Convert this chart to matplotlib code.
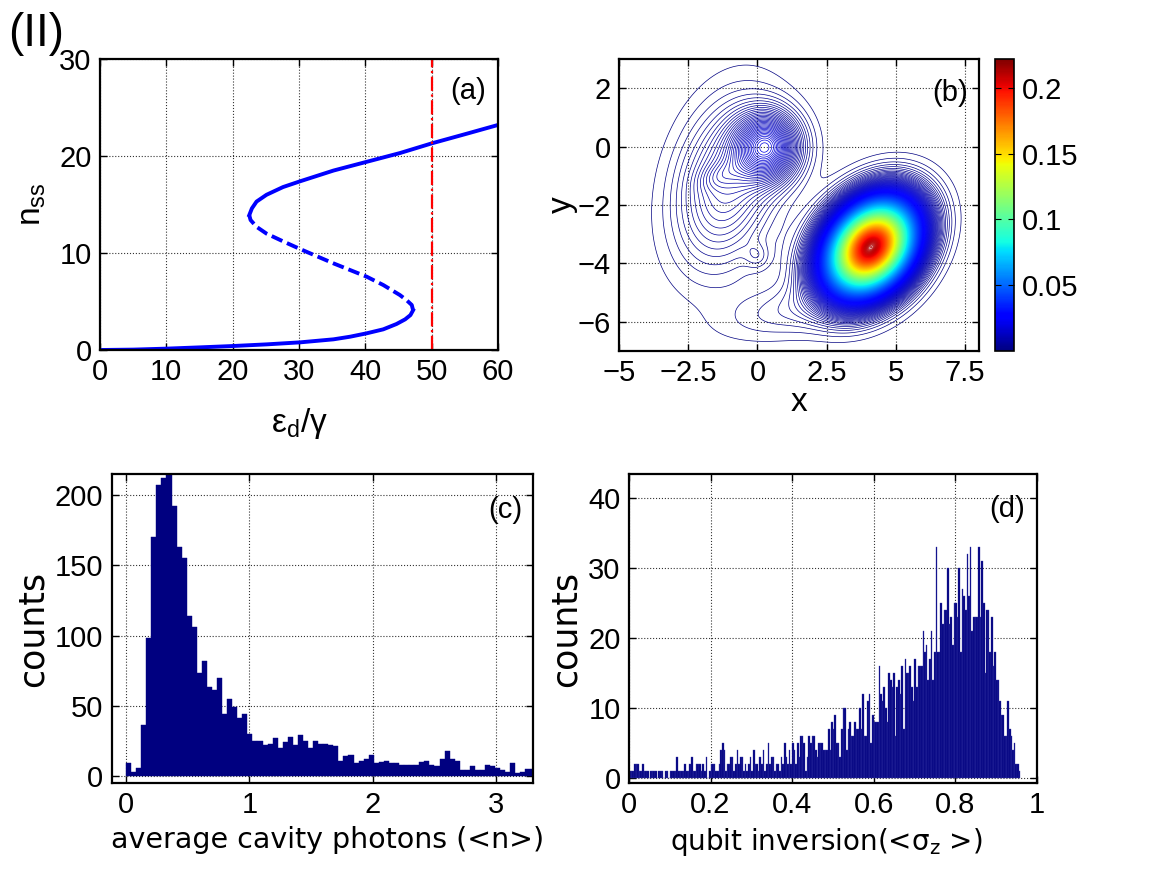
import numpy as np
import matplotlib
matplotlib.use("Agg")
import matplotlib.pyplot as plt

plt.rcParams["font.family"] = ["Liberation Sans", "DejaVu Sans"]
plt.rcParams["mathtext.default"] = "regular"

# (a) steady-state photon number against drive
drive_lower = [0, 5, 10, 15, 20, 25.1, 30.2, 35.2, 37.7, 40.2, 42.7, 44.7, 46.0, 46.8, 47.2]
n_lower = [0, 0.04, 0.14, 0.27, 0.41, 0.58, 0.79, 1.1, 1.37, 1.72, 2.13, 2.68, 3.16, 3.6, 4.1]
drive_middle = [47.2, 47.0, 46.2, 45.2, 42.7, 40.2, 35.2, 30.2, 27.6, 25.1, 23.6, 22.7, 22.5]
n_middle = [4.1, 4.64, 5.15, 5.67, 6.7, 7.56, 8.93, 10.4, 11.2, 12.0, 12.7, 13.4, 13.9]
drive_upper = [22.5, 22.9, 23.6, 25.1, 27.6, 30.2, 35.2, 40.2, 45.2, 50, 55.3, 60]
n_upper = [13.9, 14.6, 15.3, 16.0, 16.8, 17.4, 18.5, 19.4, 20.3, 21.3, 22.3, 23.2]
drive_marker = 50

# (b) Q-function, described as a few tilted gaussian lobes
blob_x = [4.1, 3.8, 0.35, -1.1, 0.0, 1.2, -1.4]
blob_y = [-3.45, -3.3, 0.0, -1.3, -3.75, -5.6, -1.0]
blob_amp = [0.21, 0.004, 0.016, 0.007, 0.0015, 0.002, 0.0015]
blob_major = [1.05, 1.5, 0.75, 1.85, 0.3, 1.6, 0.5]
blob_minor = [0.78, 1.0, 0.75, 1.15, 0.3, 0.6, 0.3]
blob_angle = [45, 35, 0, 75, 0, 10, 20]
q_max = 0.222
n_levels = 400

# (c) histogram of average cavity photons
photon_bin = 0.041
photon_counts = [9, 3, 6, 36, 98, 170, 207, 212, 218, 192,
                 163, 155, 114, 106, 73, 82, 63, 61, 70, 44,
                 55, 49, 41, 44, 30, 25, 25, 22, 23, 27,
                 20, 24, 28, 22, 29, 25, 20, 25, 23, 23,
                 22, 21, 11, 14, 15, 9, 11, 12, 15, 9,
                 10, 11, 9, 9, 8, 8, 8, 8, 10, 11,
                 8, 7, 12, 18, 12, 11, 4, 4, 7, 4,
                 4, 8, 7, 6, 4, 3, 9, 2, 3, 5,
                 5]

# (d) histogram of qubit inversion
inversion_bin = 0.004
inversion_counts = [1, 1, 1, 2, 2, 2, 1, 1, 2, 1, 1, 1, 0, 1, 1, 1, 1, 0, 1, 1,
                    1, 0, 1, 1, 0, 1, 1, 1, 1, 3, 1, 1, 1, 1, 2, 1, 1, 2, 3, 1,
                    1, 2, 2, 2, 1, 2, 1, 3, 0, 1,
                    2, 2, 2, 1, 1, 2, 4, 5, 4, 1, 2, 2, 3, 3, 1, 2, 4, 2, 3, 3,
                    1, 2, 1, 2, 3, 1, 4, 2, 2, 1, 3, 2, 4, 1, 2, 5, 2, 3, 3, 1,
                    2, 2, 1, 3, 2, 5, 3, 2, 4, 2,
                    5, 4, 2, 5, 3, 6, 6, 5, 1, 3, 6, 5, 6, 6, 4, 3, 5, 5, 5, 4,
                    4, 4, 7, 4, 8, 7, 9, 5, 5, 3, 7, 10, 10, 4, 7, 8, 6, 6, 8, 7,
                    7, 10, 7, 12, 6, 6, 11, 12, 5, 9,
                    8, 8, 8, 16, 12, 11, 13, 10, 8, 15, 14, 13, 15, 6, 13, 14, 12, 16, 7, 17,
                    15, 15, 16, 13, 11, 17, 13, 16, 16, 16, 21, 18, 19, 14, 17, 21, 14, 18, 33, 18,
                    18, 25, 22, 24, 24, 30, 22, 23, 19, 25,
                    25, 23, 30, 18, 27, 26, 24, 32, 26, 33, 21, 23, 23, 23, 33, 23, 31, 25, 15, 24,
                    24, 18, 23, 16, 18, 14, 14, 11, 9, 9, 6, 6, 11, 7, 6, 4, 5, 2, 2, 1]

W, H = 1151, 869
fig = plt.figure(figsize=(W / 100, H / 100), dpi=100)


def box(left, top, right, bottom):
    return [left / W, 1 - bottom / H, (right - left) / W, (bottom - top) / H]


def style(ax):
    ax.tick_params(direction="in", top=True, right=True, length=5, width=1,
                   labelsize=21, pad=6)
    ax.grid(True, linestyle=":", color="k", linewidth=0.8, alpha=0.8)
    ax.set_axisbelow(True)
    for s in ax.spines.values():
        s.set_linewidth(1.6)


# panel (a)
ax = fig.add_axes(box(100, 59, 498, 350))
ax.plot(drive_lower, n_lower, color="#0000ff", lw=2.8)
ax.plot(drive_middle, n_middle, color="#0000ff", lw=2.8, linestyle=(0, (3, 1.3)))
ax.plot(drive_upper, n_upper, color="#0000ff", lw=2.8)
ax.axvline(drive_marker, color="#ff0000", lw=1.6, linestyle="-.")
ax.set_xlim(0, 60)
ax.set_ylim(0, 30)
ax.set_xticks([0, 10, 20, 30, 40, 50, 60])
ax.set_yticks([0, 10, 20, 30])
style(ax)
ax.set_xlabel("ε$_d$/γ", fontsize=24, labelpad=14)
ax.set_ylabel("n$_{ss}$", fontsize=24, labelpad=8)
ax.text(0.925, 0.89, "(a)", transform=ax.transAxes, fontsize=21,
        ha="center", va="center")

# panel (b)
ax = fig.add_axes(box(619, 59, 979, 351))
xs = np.linspace(-5, 8, 440)
ys = np.linspace(-7, 3, 360)
X, Y = np.meshgrid(xs, ys)
Z = np.zeros_like(X)
for bx, by, a, sa, sb, th in zip(blob_x, blob_y, blob_amp, blob_major,
                                 blob_minor, blob_angle):
    t = np.deg2rad(th)
    u = (X - bx) * np.cos(t) + (Y - by) * np.sin(t)
    v = -(X - bx) * np.sin(t) + (Y - by) * np.cos(t)
    Z += a * np.exp(-0.5 * ((u / sa) ** 2 + (v / sb) ** 2))
levels = np.linspace(0, q_max, n_levels + 1)[1:]
ax.contour(X, Y, Z, levels=levels, cmap="jet", vmin=0, vmax=q_max,
           linewidths=0.5)
ax.set_xlim(-5, 8)
ax.set_ylim(-7, 3)
ax.set_xticks([-5, -2.5, 0, 2.5, 5, 7.5])
ax.set_xticklabels(["−5", "−2.5", "0", "2.5", "5", "7.5"])
ax.set_yticks([-6, -4, -2, 0, 2])
style(ax)
ax.set_xlabel("x", fontsize=24, labelpad=0)
ax.set_ylabel("y", fontsize=24, labelpad=0)
ax.text(0.919, 0.883, "(b)", transform=ax.transAxes, fontsize=21,
        ha="center", va="center")

cax = fig.add_axes(box(995, 59, 1014, 351))
sm = plt.cm.ScalarMappable(cmap="jet", norm=plt.Normalize(0, q_max))
cb = fig.colorbar(sm, cax=cax, ticks=[0.05, 0.1, 0.15, 0.2])
cb.ax.set_yticklabels(["0.05", "0.1", "0.15", "0.2"])
cb.ax.tick_params(direction="in", left=True, right=True, length=4,
                  labelsize=21, pad=6)
cb.outline.set_linewidth(1.2)

# panel (c)
ax = fig.add_axes(box(111.7, 474, 533, 783))
edges = np.arange(len(photon_counts)) * photon_bin
ax.bar(edges, photon_counts, width=photon_bin, align="edge", color="#000080",
       edgecolor="#000080", linewidth=0.3)
ax.set_xlim(-0.116, 3.3)
ax.set_ylim(-5, 215)
ax.set_xticks([0, 1, 2, 3])
ax.set_yticks([0, 50, 100, 150, 200])
style(ax)
ax.set_xlabel("average cavity photons (<n>)", family="DejaVu Sans",
              fontsize=20.5, labelpad=4)
ax.xaxis.set_label_coords(0.512, -0.14)
ax.set_ylabel("counts", family="DejaVu Sans", fontsize=25, labelpad=4)
ax.text(0.934, 0.883, "(c)", transform=ax.transAxes, fontsize=21,
        ha="center", va="center")

# panel (d)
ax = fig.add_axes(box(629, 474, 1036.7, 783))
edges = np.arange(len(inversion_counts)) * inversion_bin
ax.bar(edges, inversion_counts, width=inversion_bin, align="edge",
       color="#000080", edgecolor="#3a3aa8", linewidth=0.25)
ax.set_xlim(0, 1)
ax.set_ylim(-0.7, 43.5)
ax.set_xticks([0, 0.2, 0.4, 0.6, 0.8, 1])
ax.set_xticklabels(["0", "0.2", "0.4", "0.6", "0.8", "1"])
ax.set_yticks([0, 10, 20, 30, 40])
style(ax)
ax.set_xlabel("qubit inversion(<σ$_z$ >)", family="DejaVu Sans",
              fontsize=20, labelpad=4)
ax.xaxis.set_label_coords(0.483, -0.14)
ax.set_ylabel("counts", family="DejaVu Sans", fontsize=25, labelpad=4)
ax.text(0.927, 0.887, "(d)", transform=ax.transAxes, fontsize=21,
        ha="center", va="center")

fig.text(0.007, 1 - 46 / H, "(II)", fontsize=33, va="baseline", ha="left")

fig.savefig("out.png", dpi=100)
